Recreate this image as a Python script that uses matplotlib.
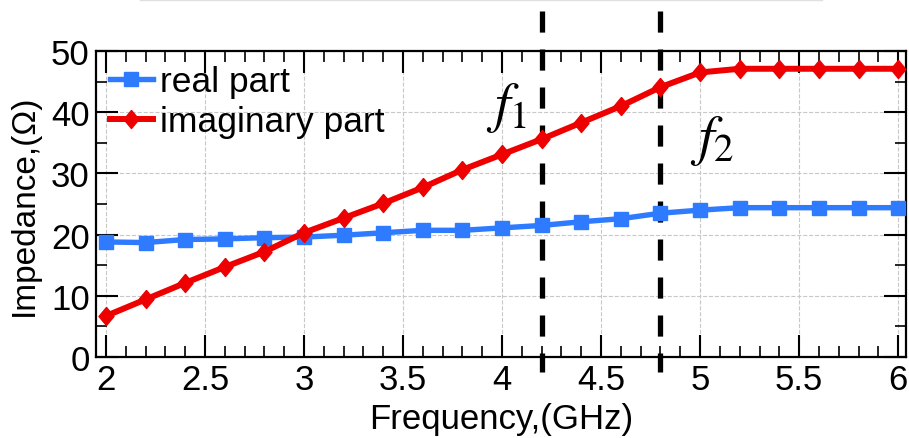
import matplotlib
matplotlib.use("Agg")
import matplotlib.pyplot as plt
from matplotlib.ticker import MultipleLocator
from matplotlib.lines import Line2D

plt.rcParams['font.family'] = ['Liberation Sans', 'DejaVu Sans']
plt.rcParams['mathtext.fontset'] = 'stix'

# Frequency sweep (GHz) and impedance components (Ohm)
freq = [2.0, 2.2, 2.4, 2.6, 2.8, 3.0, 3.2, 3.4, 3.6, 3.8, 4.0,
        4.2, 4.4, 4.6, 4.8, 5.0, 5.2, 5.4, 5.6, 5.8, 6.0]
real_part = [18.8, 18.7, 19.2, 19.3, 19.5, 19.6, 19.9, 20.3, 20.7, 20.7, 21.1,
             21.5, 22.1, 22.6, 23.5, 24.0, 24.4, 24.4, 24.4, 24.4, 24.4]
imag_part = [6.7, 9.4, 12.1, 14.7, 17.2, 20.3, 22.7, 25.1, 27.7, 30.6, 33.1,
             35.6, 38.3, 41.0, 44.1, 46.5, 47.1, 47.1, 47.1, 47.1, 47.1]

# Band edge markers
band_edges = [4.2, 4.8]
band_labels = ['$f_1$', '$f_2$']
band_label_pos = [(3.92, 45.3), (4.95, 39.9)]

fig = plt.figure(figsize=(9.09, 4.39), dpi=100)
ax = fig.add_axes([0.1056, 0.1845, 0.8912, 0.6970])

blue = '#2f7bff'
red = '#ee0000'

# tall diamond marker
diamond = [(0, 1), (0.83, 0), (0, -1), (-0.83, 0), (0, 1)]

ax.plot(freq, real_part, color=blue, lw=3.9, marker='s', ms=9.5,
        label='real part', zorder=4)
ax.plot(freq, imag_part, color=red, lw=4.3, marker=diamond, ms=13,
        label='imaginary part', zorder=5)

for xe in band_edges:
    ax.plot([xe, xe], [56.6, -2.4], color='black', lw=3.8,
            linestyle=(0, (4.0, 3.2)), solid_capstyle='butt',
            dash_capstyle='butt', clip_on=False, zorder=3)

for lab, (tx, ty) in zip(band_labels, band_label_pos):
    ax.text(tx, ty, lab, fontsize=40, color='black', ha='left', va='top',
            zorder=6)

ax.set_xlim(1.95, 6.04)
ax.set_ylim(0, 50)
ax.xaxis.set_minor_locator(MultipleLocator(0.1))
ax.yaxis.set_major_locator(MultipleLocator(10))
ax.yaxis.set_minor_locator(MultipleLocator(5))
ax.set_xticks([2, 2.5, 3, 3.5, 4, 4.5, 5, 5.5, 6])
ax.set_xticklabels(['2', '2.5', '3', '3.5', '4', '4.5', '5', '5.5', '6'])

ax.tick_params(which='major', direction='in', length=16, width=1.5,
               top=True, right=True, labelsize=25, pad=4.5)
ax.tick_params(which='minor', direction='in', length=8, width=1.2,
               top=True, right=True)
for s in ax.spines.values():
    s.set_linewidth(1.6)

ax.grid(True, which='major', color='#c8c8c8', linestyle='--', linewidth=0.8)
ax.set_axisbelow(True)

ax.set_xlabel('Frequency,(GHz)', fontsize=25, labelpad=4)
ax.set_ylabel('Impedance,(Ω)', fontsize=24, labelpad=8)

leg = ax.legend(loc='upper left', frameon=False, fontsize=25.5,
                handlelength=1.2, handletextpad=0.2, borderaxespad=0.1,
                labelspacing=0.2, borderpad=0.3)

# faint rule along the top edge
fig.add_artist(Line2D([140 / 909, 822 / 909], [0.998, 0.998],
                      color='#e0e0e0', lw=1.0))

fig.savefig('out.png', dpi=100)
